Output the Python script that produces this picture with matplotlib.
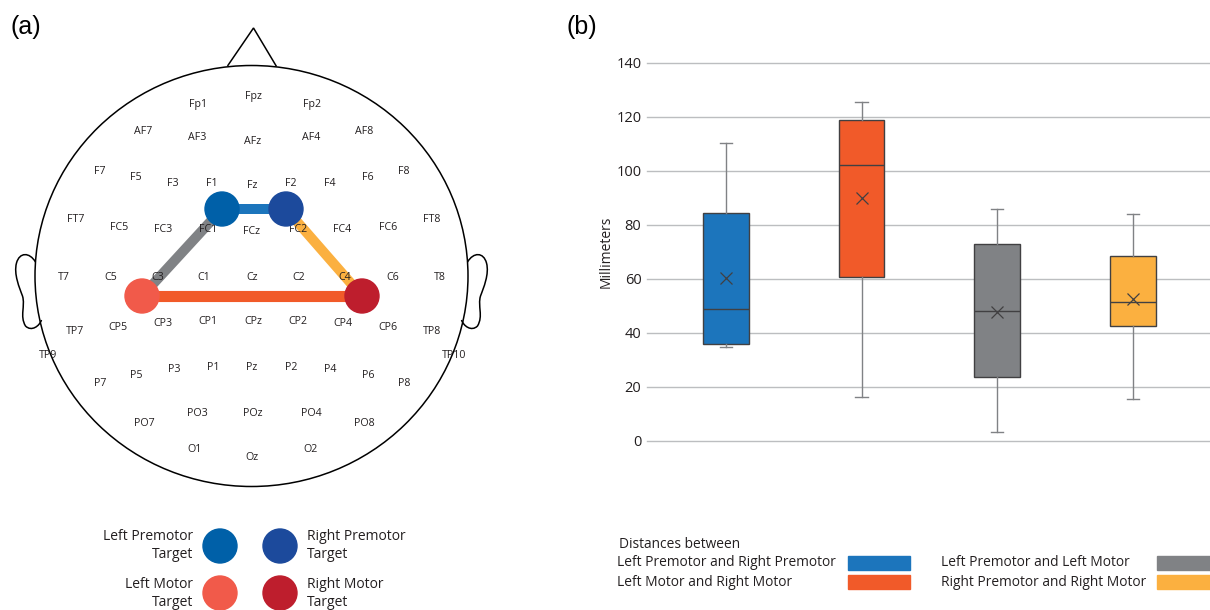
import numpy as np
import matplotlib
matplotlib.use("Agg")
import matplotlib.pyplot as plt
from matplotlib.patches import Ellipse, Circle, Rectangle, Polygon, PathPatch
from matplotlib.path import Path

plt.rcParams.update({
    "font.family": ["Open Sans", "DejaVu Sans"],
    "font.size": 10,
})

# ---------------- data ----------------
# electrode labels and their positions on the head drawing (pixels)
electrodes = ["Fp1", "Fpz", "Fp2",
              "AF7", "AF3", "AFz", "AF4", "AF8",
              "F7", "F5", "F3", "F1", "Fz", "F2", "F4", "F6", "F8",
              "FT7", "FC5", "FC3", "FC1", "FCz", "FC2", "FC4", "FC6", "FT8",
              "T7", "C5", "C3", "C1", "Cz", "C2", "C4", "C6", "T8",
              "TP7", "CP5", "CP3", "CP1", "CPz", "CP2", "CP4", "CP6", "TP8",
              "TP9", "TP10",
              "P7", "P5", "P3", "P1", "Pz", "P2", "P4", "P6", "P8",
              "PO7", "PO3", "POz", "PO4", "PO8",
              "O1", "Oz", "O2"]
elec_x = [198, 253, 312,
          143, 197, 253, 311, 364,
          100, 136, 173, 212, 252, 291, 330, 368, 404,
          76, 119, 163, 208, 252, 298, 342, 388, 432,
          64, 111, 158, 204, 252, 299, 345, 393, 440,
          75, 118, 163, 208, 253, 298, 343, 388, 432,
          48, 454,
          100, 136, 174, 213, 252, 291, 330, 368, 404,
          144, 197, 253, 311, 364,
          195, 252, 310]
elec_y = [104, 96, 104,
          131, 138, 141, 138, 131,
          171, 178, 183, 184, 186, 184, 183, 178, 171,
          220, 227, 229, 230, 231, 230, 229, 227, 220,
          277, 277, 277, 277, 277, 277, 277, 277, 277,
          332, 327, 324, 322, 322, 322, 324, 327, 332,
          356, 356,
          383, 375, 370, 367, 367, 367, 370, 375, 383,
          423, 414, 413, 414, 423,
          449, 458, 449]

# stimulation targets
targets = ["Left Premotor", "Right Premotor", "Left Motor", "Right Motor"]
target_x = [222, 286, 142, 362]
target_y = [209, 209, 296, 296]
target_colors = ["#0060A8", "#1C4A9C", "#F15A4A", "#BE1E2D"]

# distances (pairs of targets), box plot statistics in millimeters
pairs = ["Left Premotor and Right Premotor", "Left Motor and Right Motor",
         "Left Premotor and Left Motor", "Right Premotor and Right Motor"]
pair_idx = [(0, 1), (2, 3), (2, 0), (1, 3)]
pair_colors = ["#1C75BC", "#F15A29", "#808285", "#FBB040"]
whis_low = [34.9, 16.3, 3.5, 15.7]
q1 = [35.8, 60.6, 23.8, 42.6]
median = [48.7, 102.1, 48.0, 51.3]
q3 = [84.4, 118.7, 73.0, 68.6]
whis_high = [110.2, 125.3, 85.9, 84.1]
mean = [60.2, 89.8, 47.6, 52.4]
yticks = [0, 20, 40, 60, 80, 100, 120, 140]

# ---------------- figure ----------------
fig = plt.figure(figsize=(12.1, 6.1), dpi=100)

# overlay in pixel coordinates for the head map and legends
ov = fig.add_axes([0, 0, 1, 1])
ov.set_xlim(0, 1210)
ov.set_ylim(610, 0)
ov.axis("off")

hx, hy = 251.5, 276
ov.add_patch(Ellipse((hx, hy), 433, 421, fill=False, ec="black", lw=1.1))
ov.add_patch(Polygon([[hx - 24, hy - 210], [hx + 2, hy - 248], [hx + 25, hy - 209.5]],
                     closed=False, fill=False, ec="black", lw=1.1))

# ears, as offsets from the head centre
ear = [(-216, -14), (-222, -24), (-232, -24), (-235, -13),
       (-238, -2), (-232, 12), (-229, 20),
       (-226, 30), (-232, 40), (-226, 50),
       (-220, 56), (-212, 50), (-210, 44)]
codes = [Path.MOVETO] + [Path.CURVE4] * 12
for side in (-1, 1):
    verts = [(hx - side * dx, hy + dy) for dx, dy in ear]
    ov.add_patch(PathPatch(Path(verts, codes), fill=False, ec="black", lw=1.1))

for name, x, y in zip(electrodes, elec_x, elec_y):
    ov.text(x, y, name, ha="center", va="center", fontsize=7.7, color="#231F20")

widths = [7.2, 8.0, 7.2, 7.2]
for (a, b), c, w in zip(pair_idx, pair_colors, widths):
    ov.plot([target_x[a], target_x[b]], [target_y[a], target_y[b]],
            color=c, lw=w, solid_capstyle="butt", zorder=2)
for x, y, c in zip(target_x, target_y, target_colors):
    ov.add_patch(Circle((x, y), 17, color=c, zorder=3))

# target legend
leg_cx = [220, 280, 220, 280]
leg_cy = [546, 546, 593, 593]
for i, (name, c) in enumerate(zip(targets, target_colors)):
    ov.add_patch(Circle((leg_cx[i], leg_cy[i]), 17, color=c))
    left = i % 2 == 0
    tx = leg_cx[i] - 27 if left else leg_cx[i] + 27
    ha = "right" if left else "left"
    ov.text(tx, leg_cy[i] - 9, name, ha=ha, va="center", fontsize=10, color="#231F20")
    ov.text(tx, leg_cy[i] + 9, "Target", ha=ha, va="center", fontsize=10, color="#231F20")

# distance legend
ov.text(619, 544, "Distances between", ha="left", va="center", fontsize=9.9, color="#231F20")
leg_tx = [617, 617, 941, 941]
leg_ty = [563, 582, 563, 582]
leg_px = [848, 848, 1157, 1157]
for i, (name, c) in enumerate(zip(pairs, pair_colors)):
    ov.text(leg_tx[i], leg_ty[i], name, ha="left", va="center", fontsize=9.9, color="#231F20")
    ov.add_patch(Rectangle((leg_px[i], leg_ty[i] - 7), 62, 14, color=c))

ov.text(10, 27, "(a)", ha="left", va="center", fontsize=18, family="Liberation Sans")
ov.text(566, 27, "(b)", ha="left", va="center", fontsize=18, family="Liberation Sans")

# ---------------- box plot ----------------
ax = fig.add_axes([647 / 1210, (610 - 441) / 610, 563 / 1210, 378.3 / 610])
stats = []
for i in range(len(pairs)):
    stats.append(dict(med=median[i], q1=q1[i], q3=q3[i], whislo=whis_low[i],
                      whishi=whis_high[i], mean=mean[i], fliers=[]))
bp = ax.bxp(stats, positions=[1, 2, 3, 4], widths=0.337, patch_artist=True,
            showmeans=True, showfliers=False,
            boxprops=dict(edgecolor="#414042", linewidth=1.0),
            medianprops=dict(color="#414042", linewidth=1.0),
            whiskerprops=dict(color="#808285", linewidth=1.0),
            capprops=dict(color="#808285", linewidth=1.0),
            capwidths=0.09,
            meanprops=dict(marker="x", markersize=8, markeredgecolor="#414042",
                           markeredgewidth=0.9))
for box, c in zip(bp["boxes"], pair_colors):
    box.set_facecolor(c)

ax.set_xlim(0.417, 4.57)
ax.set_ylim(0, 140)
ax.set_yticks(yticks)
ax.set_xticks([])
ax.grid(axis="y", color="#BCBEC0", lw=1.0)
ax.set_axisbelow(True)
for s in ax.spines.values():
    s.set_visible(False)
ax.tick_params(axis="y", length=0, pad=4, labelsize=10.5, labelcolor="#231F20")
ax.set_ylabel("Millimeters", fontsize=10, color="#231F20", labelpad=2)
for gl in ax.get_ygridlines():
    gl.set_clip_on(False)

fig.savefig("out.png", dpi=100)
